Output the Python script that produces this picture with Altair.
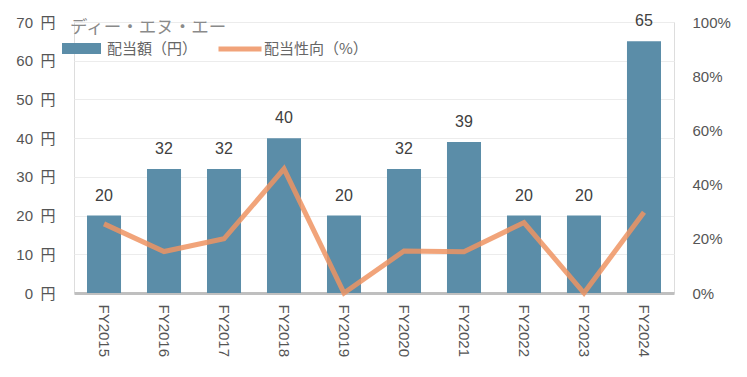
import altair as alt
import pandas as pd

years = ["FY2015", "FY2016", "FY2017", "FY2018", "FY2019", "FY2020", "FY2021", "FY2022", "FY2023", "FY2024"]
dividend = [20, 32, 32, 40, 20, 32, 39, 20, 20, 65]
payout = [0.255, 0.153, 0.20, 0.458, 0.0, 0.155, 0.152, 0.26, 0.0, 0.298]
yen_ticks = [0, 10, 20, 30, 40, 50, 60, 70]
pct_ticks = [0, 0.2, 0.4, 0.6, 0.8, 1.0]

bar_name = "配当額（円）"
line_name = "配当性向（%）"

df = pd.DataFrame({"year": years, "dividend": dividend, "payout": payout,
                   "s1": bar_name, "s2": line_name})

FONT = "Liberation Sans, Noto Sans CJK JP"
JFONT = "Noto Sans CJK JP"
BLUE = "#5b8da8"
ORANGE = "#ef9463"

xscale = alt.Scale(domain=years, paddingInner=0.433, paddingOuter=0.2167)
x = alt.X("year:N", title=None, sort=years, scale=xscale,
          axis=alt.Axis(labelAngle=90, labelAlign="left", labelBaseline="middle",
                        labelFontSize=15, labelColor="#555", labelPadding=11,
                        ticks=False, domainColor="#bfbfbf", domainWidth=3,
                        labelFont=FONT))

yaxis = alt.Axis(values=yen_ticks, tickCount=8,
                 labelExpr="datum.value + '\u2002円'", labelOverlap=False,
                 labelFontSize=15, labelColor="#555", labelPadding=19,
                 ticks=False, domain=False, gridColor="#ececec",
                 labelFont=FONT)
yscale = alt.Scale(domain=[0, 70], nice=False)

bars = alt.Chart(df).mark_bar(color=BLUE).encode(
    x=x,
    y=alt.Y("dividend:Q", title=None, scale=yscale, axis=yaxis),
    fill=alt.Fill("s1:N", title=None,
                  scale=alt.Scale(domain=[bar_name], range=[BLUE]),
                  legend=alt.Legend(orient="none", legendX=-12, legendY=7,
                                    symbolType="M-1,-0.28H1V0.28H-1Z",
                                    symbolSize=1521, symbolStrokeWidth=0,
                                    symbolOpacity=1,
                                    labelFontSize=15, labelColor="#666",
                                    labelFont=JFONT, labelOffset=6)),
)

labels = alt.Chart(df).mark_text(dy=-12, baseline="bottom", fontSize=16,
                                 color="#404040", font=FONT).encode(
    x=x,
    y=alt.Y("dividend:Q", title=None, scale=yscale, axis=yaxis),
    text=alt.Text("dividend:Q"),
)

line = alt.Chart(df).mark_line(strokeWidth=5, opacity=0.85).encode(
    x=x,
    y=alt.Y("payout:Q", title=None,
            scale=alt.Scale(domain=[0, 1], nice=False),
            axis=alt.Axis(orient="right", format=".0%",
                          values=pct_ticks, labelOverlap=False,
                          labelFontSize=15, labelColor="#555", labelPadding=18,
                          ticks=False, domain=False, grid=False,
                          labelFont=FONT)),
    stroke=alt.Stroke("s2:N", title=None,
                      scale=alt.Scale(domain=[line_name], range=[ORANGE]),
                      legend=alt.Legend(orient="none", legendX=142, legendY=3,
                                        symbolType="M-1,0H1", symbolSize=1849,
                                        symbolStrokeWidth=5,
                                        labelFontSize=15, labelColor="#666",
                                        labelFont=JFONT, labelOffset=0)),
)

left = alt.layer(bars, labels)
chart = alt.layer(left, line).resolve_scale(
    y="independent", fill="independent", stroke="independent"
).properties(
    width=600, height=271,
    title=alt.TitleParams("ディー・エヌ・エー", anchor="start", frame="group",
                          orient="top", offset=0, dx=-4, dy=32,
                          baseline="middle", fontSize=17.5, color="#8a8a8a",
                          fontWeight="normal", font=JFONT),
    autosize=alt.AutoSizeParams(type="none"),
    padding={"left": 66, "top": 14, "right": 60, "bottom": 84},
).configure_view(stroke=None).configure(font=FONT)

chart.save("out.html", embed_options={"renderer": "svg", "actions": False})
